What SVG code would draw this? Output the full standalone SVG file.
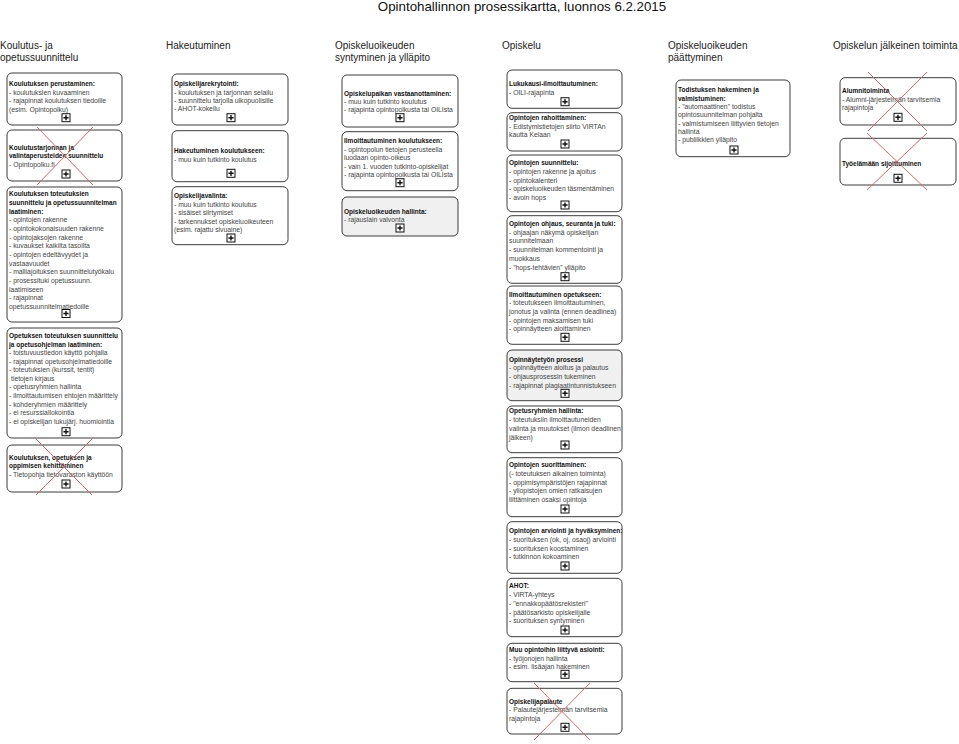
<svg xmlns="http://www.w3.org/2000/svg" width="959" height="744" viewBox="0 0 959 744">
<style>
text{font-family:"Liberation Sans",Arial,sans-serif}
.ttl{font-size:13.3px;fill:#111}
.hd{font-size:10px;fill:#222}
.t{font-size:6.8px;fill:#444}
.b{font-weight:bold;fill:#111;font-size:6.5px}
.box{fill:#fff;stroke:#3c3c3c;stroke-width:1}
.gray{fill:#f0f0f0}
.x{stroke:#d06a6a;stroke-width:1;fill:none}
</style>
<defs>
<g id="plus">
<rect x="-4" y="-4" width="8" height="8" fill="#fff" stroke="#111" stroke-width="1"/>
<path d="M-2.6 0H2.6M0 -2.6V2.6" stroke="#111" stroke-width="1.4"/>
</g>
</defs>
<rect width="959" height="744" fill="#fff"/>
<text class="ttl" x="522" y="11" text-anchor="middle">Opintohallinnon prosessikartta, luonnos 6.2.2015</text>
<g id="headers" class="hd">
<text class="hd" x="0" y="48.5">Koulutus- ja</text>
<text class="hd" x="0" y="60.5">opetussuunnittelu</text>
<text class="hd" x="166" y="48.5">Hakeutuminen</text>
<text class="hd" x="335" y="48.5">Opiskeluoikeuden</text>
<text class="hd" x="335" y="60.5">syntyminen ja ylläpito</text>
<text class="hd" x="502" y="48.5">Opiskelu</text>
<text class="hd" x="668" y="48.5">Opiskeluoikeuden</text>
<text class="hd" x="668" y="60.5">päättyminen</text>
<text class="hd" x="833" y="48.5">Opiskelun jälkeinen toiminta</text>
</g>
<g id="connectors"/>

<!-- Column 1 -->
<g id="c1n1">
<rect class="box" x="7" y="73" width="115" height="52" rx="5"/>
<text class="t" x="9" y="86.4"><tspan class="b">Koulutuksen perustaminen:</tspan><tspan x="9" dy="8.4">- koulutuksien kuvaaminen</tspan><tspan x="9" dy="8.4">- rajapinnat koulutuksen tiedoille</tspan><tspan x="9" dy="8.4">(esim. Opintopolku)</tspan></text>
<use href="#plus" x="66" y="117.7"/>
</g>
<g id="c1n2">
<rect class="box" x="7" y="130" width="115" height="51" rx="5"/>
<text class="t" x="9" y="149.7"><tspan class="b">Koulutustarjonnan ja</tspan><tspan class="b" x="9" dy="8.7">valintaperusteiden suunnittelu</tspan><tspan x="9" dy="8.7">- Opintopolku.fi</tspan></text>
<use href="#plus" x="66" y="174"/>
<path class="x" d="M37 127L93 185M93 127L37 185"/>
</g>
<g id="c1n3">
<rect class="box" x="7" y="187" width="115" height="135" rx="5"/>
<text class="t" x="9" y="196.4"><tspan class="b">Koulutuksen toteutuksien</tspan><tspan class="b" x="9" dy="8.65">suunnittelu ja opetussuunnitelman</tspan><tspan class="b" x="9" dy="8.65">laatiminen:</tspan><tspan x="9" dy="8.65">- opintojen rakenne</tspan><tspan x="9" dy="8.65">- opintokokonaisuuden rakenne</tspan><tspan x="9" dy="8.65">- opintojaksojen rakenne</tspan><tspan x="9" dy="8.65">- kuvaukset kaikilta tasoilta</tspan><tspan x="9" dy="8.65">- opintojen edeltävyydet ja</tspan><tspan x="9" dy="8.65">vastaavuudet</tspan><tspan x="9" dy="8.65">- malliajoituksen suunnittelutyökalu</tspan><tspan x="9" dy="8.65">- prosessituki opetussuunn.</tspan><tspan x="9" dy="8.65">laatimiseen</tspan><tspan x="9" dy="8.65">- rajapinnat</tspan><tspan x="9" dy="8.65">opetussuunnitelmatiedoille</tspan></text>
<use href="#plus" x="66" y="313.5"/>
</g>
<g id="c1n4">
<rect class="box" x="7" y="328" width="115" height="110" rx="5"/>
<text class="t" x="9" y="338.1"><tspan class="b">Opetuksen toteutuksen suunnittelu</tspan><tspan class="b" x="9" dy="8.55">ja opetusohjelman laatiminen:</tspan><tspan x="9" dy="8.55">- toistuvuustiedon käyttö pohjalla</tspan><tspan x="9" dy="8.55">- rajapinnat opetusohjelmatiedoille</tspan><tspan x="9" dy="8.55">- toteutuksien (kurssit, tentit)</tspan><tspan x="11" dy="8.55">tietojen kirjaus</tspan><tspan x="9" dy="8.55">- opetusryhmien hallinta</tspan><tspan x="9" dy="8.55">- ilmoittautumisen ehtojen määrittely</tspan><tspan x="9" dy="8.55">- kohderyhmien määrittely</tspan><tspan x="9" dy="8.55">- ei resurssiallokointia</tspan><tspan x="9" dy="8.55">- ei opiskelijan lukujärj. huomiointia</tspan></text>
<use href="#plus" x="66" y="431.7"/>
</g>
<g id="c1n5">
<rect class="box" x="7" y="445" width="115" height="47" rx="5"/>
<text class="t" x="9" y="459.7"><tspan class="b">Koulutuksen, opetuksen ja</tspan><tspan class="b" x="9" dy="8.7">oppimisen kehittäminen</tspan><tspan x="9" dy="8.7">- Tietopohja tietovaraston käyttöön</tspan></text>
<use href="#plus" x="66" y="484"/>
<path class="x" d="M36 439L92 495M92 439L36 495"/>
</g>

<!-- Column 2 -->
<g id="c2n1">
<rect class="box" x="172" y="74" width="116" height="51" rx="5"/>
<text class="t" x="174" y="86.4"><tspan class="b">Opiskelijarekrytointi:</tspan><tspan x="174" dy="8.35">- koulutuksen ja tarjonnan selailu</tspan><tspan x="174" dy="8.35">- suunnittelu tarjolla ulkopuolisille</tspan><tspan x="174" dy="8.35">- AHOT-kokeilu</tspan></text>
<use href="#plus" x="231" y="117.7"/>
</g>
<g id="c2n2">
<rect class="box" x="172" y="130.7" width="116" height="51" rx="5"/>
<text class="t" x="174" y="153.4"><tspan class="b">Hakeutuminen koulutukseen:</tspan><tspan x="174" dy="8.7">- muu kuin tutkinto koulutus</tspan></text>
<use href="#plus" x="231" y="173.3"/>
</g>
<g id="c2n3">
<rect class="box" x="172" y="186.7" width="116" height="58" rx="5"/>
<text class="t" x="174" y="198.4"><tspan class="b">Opiskelijavalinta:</tspan><tspan x="174" dy="8.45">- muu kuin tutkinto koulutus</tspan><tspan x="174" dy="8.45">- sisäiset siirtymiset</tspan><tspan x="174" dy="8.45">- tarkennukset opiskeluoikeuteen</tspan><tspan x="174" dy="8.45">(esim. rajattu sivuaine)</tspan></text>
<use href="#plus" x="231" y="238"/>
</g>

<!-- Column 3 -->
<g id="c3n1">
<rect class="box" x="342" y="75" width="116" height="52" rx="5"/>
<text class="t" x="344" y="95.7"><tspan class="b">Opiskelupaikan vastaanottaminen:</tspan><tspan x="344" dy="8.35">- muu kuin tutkinto koulutus</tspan><tspan x="344" dy="8.35">- rajapinta opintopolkusta tai OILIsta</tspan></text>
<use href="#plus" x="400" y="117.7"/>
</g>
<g id="c3n2">
<rect class="box" x="342" y="131.7" width="116" height="59" rx="5"/>
<text class="t" x="344" y="143.1"><tspan class="b">Ilmoittautuminen koulutukseen:</tspan><tspan x="344" dy="8.5">- opintopolun tietojen perusteella</tspan><tspan x="344" dy="8.5">luodaan opinto-oikeus</tspan><tspan x="344" dy="8.5">- vain 1. vuoden tutkinto-opiskelijat</tspan><tspan x="344" dy="8.5">- rajapinta opintopolkusta tai OILIsta</tspan></text>
<use href="#plus" x="400" y="182.7"/>
</g>
<g id="c3n3">
<rect class="box gray" x="342" y="197" width="116" height="39" rx="5"/>
<text class="t" x="344" y="213.6"><tspan class="b">Opiskeluoikeuden hallinta:</tspan><tspan x="344" dy="8.2">- rajauslain valvonta</tspan></text>
<use href="#plus" x="400" y="228"/>
</g>

<!-- Column 4 -->
<g id="c4n1">
<rect class="box" x="507" y="70" width="115" height="38.3" rx="5"/>
<text class="t" x="509" y="86.4"><tspan class="b">Lukukausi-ilmoittautuminen:</tspan><tspan x="509" dy="8.6">- OILI-rajapinta</tspan></text>
<use href="#plus" x="565" y="101.7"/>
</g>
<g id="c4n2">
<rect class="box" x="507" y="112.7" width="115" height="38.3" rx="5"/>
<text class="t" x="509" y="120.1"><tspan class="b">Opintojen rahoittaminen:</tspan><tspan x="509" dy="8.6">- Edistymistietojen siirto VIRTAn</tspan><tspan x="509" dy="8.6">kautta Kelaan</tspan></text>
<use href="#plus" x="565" y="144"/>
</g>
<g id="c4n3">
<rect class="box" x="507" y="155" width="115" height="56.7" rx="5"/>
<text class="t" x="509" y="165.1"><tspan class="b">Opintojen suunnittelu:</tspan><tspan x="509" dy="8.75">- opintojen rakenne ja ajoitus</tspan><tspan x="509" dy="8.75">- opintokalenteri</tspan><tspan x="509" dy="8.75">- opiskeluoikeuden täsmentäminen</tspan><tspan x="509" dy="8.75">- avoin hops</tspan></text>
<use href="#plus" x="565" y="205"/>
</g>
<g id="c4n4">
<rect class="box" x="507" y="215.7" width="115" height="67.6" rx="5"/>
<text class="t" x="509" y="225.7"><tspan class="b">Opintojen ohjaus, seuranta ja tuki:</tspan><tspan x="509" dy="8.8">- ohjaajan näkymä opiskelijan</tspan><tspan x="509" dy="8.8">suunnitelmaan</tspan><tspan x="509" dy="8.8">- suunnitelman kommentointi ja</tspan><tspan x="509" dy="8.8">muokkaus</tspan><tspan x="509" dy="8.8">- "hops-tehtävien" ylläpito</tspan></text>
<use href="#plus" x="565" y="276.7"/>
</g>
<g id="c4n5">
<rect class="box" x="507" y="286" width="115" height="58.3" rx="5"/>
<text class="t" x="509" y="296.7"><tspan class="b">Ilmoittautuminen opetukseen:</tspan><tspan x="509" dy="8.6">- toteutukseen ilmoittautuminen,</tspan><tspan x="509" dy="8.6">jonotus ja valinta (ennen deadlinea)</tspan><tspan x="509" dy="8.6">- opintojen maksamisen tuki</tspan><tspan x="509" dy="8.6">- opinnäytteen aloittaminen</tspan></text>
<use href="#plus" x="565" y="337.3"/>
</g>
<g id="c4n6">
<rect class="box gray" x="507" y="350" width="115" height="50.7" rx="5"/>
<text class="t" x="509" y="361.7"><tspan class="b">Opinnäytetyön prosessi</tspan><tspan x="509" dy="8.67">- opinnäytteen aloitus ja palautus</tspan><tspan x="509" dy="8.67">- ohjausprosessin tukeminen</tspan><tspan x="509" dy="8.67">- rajapinnat plagiaatintunnistukseen</tspan></text>
<use href="#plus" x="565" y="393.3"/>
</g>
<g id="c4n7">
<rect class="box" x="507" y="406" width="115" height="46.7" rx="5"/>
<text class="t" x="509" y="413.4"><tspan class="b">Opetusryhmien hallinta:</tspan><tspan x="509" dy="8.9">- toteutuksiin ilmoittautuneiden</tspan><tspan x="509" dy="8.9">valinta ja muutokset (ilmon deadlinen</tspan><tspan x="509" dy="8.9">jälkeen)</tspan></text>
<use href="#plus" x="565" y="445"/>
</g>
<g id="c4n8">
<rect class="box" x="507" y="457.7" width="115" height="59" rx="5"/>
<text class="t" x="509" y="467.4"><tspan class="b">Opintojen suorittaminen:</tspan><tspan x="509" dy="8.67">(- toteutuksen aikainen toiminta)</tspan><tspan x="509" dy="8.67">- oppimisympäristöjen rajapinnat</tspan><tspan x="509" dy="8.67">- yliopistojen omien ratkaisujen</tspan><tspan x="509" dy="8.67">liittäminen osaksi opintoja</tspan></text>
<use href="#plus" x="565" y="509"/>
</g>
<g id="c4n9">
<rect class="box" x="507" y="521.7" width="115" height="51.6" rx="5"/>
<text class="t" x="509" y="532.7"><tspan class="b">Opintojen arviointi ja hyväksyminen:</tspan><tspan x="509" dy="8.9">- suorituksen (ok, oj, osaoj) arviointi</tspan><tspan x="509" dy="8.9">- suorituksen koostaminen</tspan><tspan x="509" dy="8.9">- tutkinnon kokoaminen</tspan></text>
<use href="#plus" x="565" y="566"/>
</g>
<g id="c4n10">
<rect class="box" x="507" y="578.3" width="115" height="58.4" rx="5"/>
<text class="t" x="509" y="588.1"><tspan class="b">AHOT:</tspan><tspan x="509" dy="8.8">- VIRTA-yhteys</tspan><tspan x="509" dy="8.8">- "ennakkopäätösrekisteri"</tspan><tspan x="509" dy="8.8">- päätösarkisto opiskelijalle</tspan><tspan x="509" dy="8.8">- suorituksen syntyminen</tspan></text>
<use href="#plus" x="565" y="630"/>
</g>
<g id="c4n11">
<rect class="box" x="507" y="643.3" width="115" height="38.4" rx="5"/>
<text class="t" x="509" y="652.4"><tspan class="b">Muu opintoihin liittyvä asiointi:</tspan><tspan x="509" dy="8.35">- työjonojen hallinta</tspan><tspan x="509" dy="8.35">- esim. lisäajan hakeminen</tspan></text>
<use href="#plus" x="565" y="674.3"/>
</g>
<g id="c4n12">
<rect class="box" x="507" y="688.3" width="115" height="45.7" rx="5"/>
<text class="t" x="509" y="704.1"><tspan class="b">Opiskelijapalaute</tspan><tspan x="509" dy="8.3">- Palautejärjestelmän tarvitsemia</tspan><tspan x="509" dy="8.3">rajapintoja</tspan></text>
<use href="#plus" x="565" y="727.3"/>
<path class="x" d="M534 683L590 740M590 683L534 740"/>
</g>

<!-- Column 5 -->
<g id="c5n1">
<rect class="box" x="676" y="80" width="114" height="76.7" rx="5"/>
<text class="t" x="678" y="92.4"><tspan class="b">Todistuksen hakeminen ja</tspan><tspan class="b" x="678" dy="8.33">valmistuminen:</tspan><tspan x="678" dy="8.33">- "automaattinen" todistus</tspan><tspan x="678" dy="8.33">opintosuunnitelman pohjalta</tspan><tspan x="678" dy="8.33">- valmistumiseen liittyvien tietojen</tspan><tspan x="678" dy="8.33">hallinta</tspan><tspan x="678" dy="8.33">- publiikkien ylläpito</tspan></text>
<use href="#plus" x="734" y="150"/>
</g>

<!-- Column 6 -->
<g id="c6n1">
<rect class="box" x="840" y="77.7" width="116" height="47.3" rx="5"/>
<text class="t" x="842" y="93.4"><tspan class="b">Alumnitoiminta</tspan><tspan x="842" dy="8.5">- Alumni-järjestelmän tarvitsemia</tspan><tspan x="842" dy="8.5">rajapintoja</tspan></text>
<use href="#plus" x="898" y="117.3"/>
<path class="x" d="M868 72L927 131M927 72L868 131"/>
</g>
<g id="c6n2">
<rect class="box" x="840" y="138.3" width="116" height="46.7" rx="5"/>
<text class="t b" x="842" y="165.7">Työelämään sijoittuminen</text>
<use href="#plus" x="898" y="178.3"/>
<path class="x" d="M867 133L927 190M927 133L867 190"/>
</g>
</svg>
